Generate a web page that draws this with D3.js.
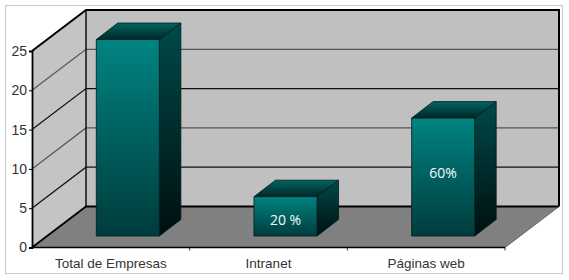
<!DOCTYPE html>
<html>
<head>
<meta charset="utf-8">
<script src="https://cdn.jsdelivr.net/npm/d3@7"></script>
<style>
  html, body { margin: 0; padding: 0; background: #fff; }
  svg { display: block; }
  .axis-label { font-family: "Liberation Sans", Arial, sans-serif; fill: #333; }
  .bar-label { font-family: "Open Sans", sans-serif; font-size: 14px; fill: #f4fbfb; text-anchor: middle; }
</style>
</head>
<body>
<div id="chart"></div>
<script>
const categories = ['Total de Empresas', 'Intranet', 'Páginas web'];
const values = [25, 5, 15];
const barLabels = [null, '20 %', '60%'];
const barLabelLevels = [null, 2, 8];   // value height inside the bar where the text sits
const yTicks = [0, 5, 10, 15, 20, 25];

const width = 569, height = 280;
const plot = {left: 32, right: 505, top: 51, bottom: 247.5};
const depth = {x: 54, y: -41};         // shift from front of the box to the back wall
const barDepth = {x: 21.5, y: -16.5};
const barInset = {x: 17, y: -11.5};    // bars stand a bit behind the front edge of the floor

const svg = d3.select('#chart').append('svg')
    .attr('width', width)
    .attr('height', height);

const x = d3.scaleBand().domain(categories).range([plot.left, plot.right]).paddingInner(0.6).paddingOuter(0.3);
const xOuter = d3.scaleBand().domain(categories).range([plot.left, plot.right]);
const y = d3.scaleLinear().domain([0, 25]).range([plot.bottom, plot.top]);

const pts = a => a.map(p => p.join(',')).join(' ');

// Gradients shared by every bar
const defs = svg.append('defs');
function addGradient(id, stops) {
  const g = defs.append('linearGradient').attr('id', id)
      .attr('x1', 0).attr('y1', 0).attr('x2', 0).attr('y2', 1);
  g.selectAll('stop').data(stops).join('stop')
      .attr('offset', d => d[0])
      .attr('stop-color', d => d[1]);
}
addGradient('bar-front', [[0, '#008482'], [1, '#003c3c']]);
addGradient('bar-side', [[0, '#004a4a'], [1, '#000f0f']]);
addGradient('bar-top', [[0, '#006563'], [1, '#002626']]);

// Image frame
svg.append('rect')
    .attr('x', 5.5).attr('y', 5.5)
    .attr('width', 557).attr('height', 268)
    .attr('fill', '#fff')
    .attr('stroke', '#c8c8c8');

const y0 = y(0), y25 = y(25);
const left = plot.left, right = plot.right;

// Walls and floor
svg.append('polygon')
    .attr('points', pts([[left + depth.x, y25 + depth.y], [right + depth.x, y25 + depth.y], [right + depth.x, y0 + depth.y], [left + depth.x, y0 + depth.y]]))
    .attr('fill', '#c0c0c0');
svg.append('polygon')
    .attr('points', pts([[left, y25], [left + depth.x, y25 + depth.y], [left + depth.x, y0 + depth.y], [left, y0]]))
    .attr('fill', '#c4c4c4');
svg.append('polygon')
    .attr('points', pts([[left, y0], [left + depth.x, y0 + depth.y], [right + depth.x, y0 + depth.y], [right, y0]]))
    .attr('fill', '#808080');

// Gridlines on both walls, alternating dark and grey like the source
const gridTicks = yTicks.filter(d => d > 0 && d < 25);
const gridColor = d => (d % 10 === 5 ? '#111' : '#555');
svg.append('g').selectAll('path').data(gridTicks).join('path')
    .attr('d', d => `M${left},${y(d)}L${left + depth.x},${y(d) + depth.y}L${right + depth.x},${y(d) + depth.y}`)
    .attr('fill', 'none')
    .attr('stroke', gridColor)
    .attr('stroke-width', 1.2);

// Box outline
svg.append('path')
    .attr('d', `M${left},${y25}L${left + depth.x},${y25 + depth.y}L${right + depth.x},${y25 + depth.y}L${right + depth.x},${y0 + depth.y}`)
    .attr('fill', 'none').attr('stroke', '#000').attr('stroke-width', 2);
svg.append('path')
    .attr('d', `M${left + depth.x},${y25 + depth.y}V${y0 + depth.y}`)
    .attr('fill', 'none').attr('stroke', '#111').attr('stroke-width', 1.5);
svg.append('path')
    .attr('d', `M${left},${y0}L${left + depth.x},${y0 + depth.y}H${right + depth.x}`)
    .attr('fill', 'none').attr('stroke', '#000').attr('stroke-width', 1.8);
svg.append('path')
    .attr('d', `M${right},${y0}L${right + depth.x},${y0 + depth.y}`)
    .attr('fill', 'none').attr('stroke', '#666').attr('stroke-width', 1);

// Bars: front, side and top faces
const rows = categories.map((c, i) => ({
  name: c,
  value: values[i],
  label: barLabels[i],
  level: barLabelLevels[i],
  x0: x(c) + barInset.x,
  x1: x(c) + x.bandwidth() + barInset.x,
  yTop: y(values[i]) + barInset.y,
  yBase: y(0) + barInset.y
}));

const bars = svg.append('g').selectAll('g').data(rows).join('g');
bars.append('polygon')
    .attr('points', d => pts([[d.x1, d.yTop], [d.x1 + barDepth.x, d.yTop + barDepth.y], [d.x1 + barDepth.x, d.yBase + barDepth.y], [d.x1, d.yBase]]))
    .attr('fill', 'url(#bar-side)');
bars.append('polygon')
    .attr('points', d => pts([[d.x0, d.yTop], [d.x1, d.yTop], [d.x1 + barDepth.x, d.yTop + barDepth.y], [d.x0 + barDepth.x, d.yTop + barDepth.y]]))
    .attr('fill', 'url(#bar-top)');
bars.append('rect')
    .attr('x', d => d.x0)
    .attr('y', d => d.yTop)
    .attr('width', x.bandwidth())
    .attr('height', d => d.yBase - d.yTop)
    .attr('fill', 'url(#bar-front)');
bars.selectAll('polygon, rect')
    .attr('stroke', '#001a1a')
    .attr('stroke-width', 0.8)
    .attr('stroke-linejoin', 'round');

bars.filter(d => d.label)
  .append('text')
    .attr('class', 'bar-label')
    .attr('x', d => (d.x0 + d.x1) / 2)
    .attr('y', d => y(d.level) + barInset.y)
    .attr('dy', '.35em')
    .text(d => d.label);

// Axes
const yAxis = svg.append('g')
    .attr('transform', `translate(${left},0)`)
    .call(d3.axisLeft(y).tickValues(yTicks).tickSize(3).tickPadding(2));
yAxis.select('.domain').attr('stroke', '#000').attr('stroke-width', 1.8);
yAxis.selectAll('.tick line').attr('stroke', '#000');
yAxis.selectAll('text')
    .attr('class', 'axis-label')
    .attr('font-size', 14)
    .attr('fill', null);

// Baseline with ticks between the categories
svg.append('path')
    .attr('d', `M${left},${y0}H${right}`)
    .attr('stroke', '#000').attr('stroke-width', 1.6);
svg.append('g').selectAll('line').data(categories).join('line')
    .attr('x1', d => xOuter(d) + xOuter.bandwidth())
    .attr('x2', d => xOuter(d) + xOuter.bandwidth())
    .attr('y1', y0)
    .attr('y2', y0 + 3)
    .attr('stroke', '#333');

svg.append('g').selectAll('text').data(categories).join('text')
    .attr('class', 'axis-label')
    .attr('x', d => xOuter(d) + xOuter.bandwidth() / 2)
    .attr('y', y0 + 20)
    .attr('text-anchor', 'middle')
    .attr('font-size', 13.5)
    .text(d => d);
</script>
</body>
</html>
